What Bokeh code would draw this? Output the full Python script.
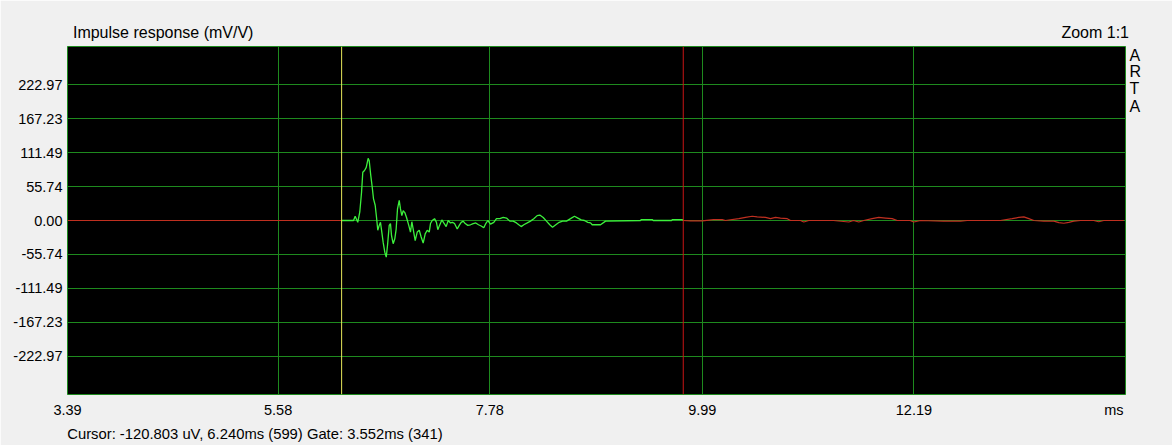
from bokeh.plotting import figure
from bokeh.models import Span, FixedTicker, PrintfTickFormatter, Range1d, LinearAxis
from bokeh.embed import file_html
from bokeh.resources import INLINE

# ---------------- data ----------------
x_ticks = [3.39, 5.58, 7.78, 9.99, 12.19]
y_ticks = [-222.97, -167.23, -111.49, -55.74, 0.0, 55.74, 111.49, 167.23, 222.97]
x_start, x_end = 3.39, 14.39
y_lim = 285.3

cursor_ms = 6.240
gate_ms = 3.552

# gated part (green)
gate_t = [6.240, 6.364, 6.381, 6.408, 6.429, 6.447, 6.460, 6.478, 6.496, 6.516,
          6.527, 6.543, 6.558, 6.571, 6.589, 6.603, 6.616, 6.631, 6.644, 6.658,
          6.672, 6.689, 6.704, 6.717, 6.735, 6.748, 6.759, 6.776, 6.793, 6.807,
          6.821, 6.839, 6.852, 6.866, 6.880, 6.897, 6.915, 6.938, 6.956, 6.970,
          6.984, 7.005, 7.026, 7.047, 7.067, 7.088, 7.109, 7.130, 7.151, 7.164,
          7.182, 7.206, 7.226, 7.240, 7.258, 7.282, 7.302, 7.327, 7.348, 7.372,
          7.393, 7.414, 7.442, 7.463, 7.483, 7.504, 7.525, 7.552, 7.580, 7.608,
          7.635, 7.663, 7.691, 7.718, 7.739, 7.760, 7.788, 7.822, 7.850, 7.885,
          7.920, 7.954, 7.989, 8.024, 8.058, 8.082, 8.107, 8.134, 8.170, 8.204,
          8.238, 8.273, 8.300, 8.336, 8.370, 8.404, 8.433, 8.467, 8.502, 8.537,
          8.578, 8.620, 8.661, 8.696, 8.731, 8.765, 8.800, 8.828, 8.845, 8.932,
          8.984, 9.347, 9.357, 9.469, 9.480, 9.670, 9.680, 9.781, 9.792]
gate_v = [0, 0, 7, -3, 14, 46, 79, 82, 87, 102,
          98, 74, 55, 36, 25, 5, -16, -8, -3, -19,
          -36, -52, -60, -41, -8, -5, -25, -38, -30, -14,
          19, 33, 19, 8, 16, 13, 5, -8, -19, -2,
          -14, -33, -19, -16, -27, -37, -22, -16, -19, -5,
          0, 3, -3, -15, -8, 1, -4, -10, 0, -4,
          -3, -5, -14, -8, -3, -1, -5, -8, -7, -5,
          -4, -7, -9, -12, -5, 0, -6, -3, 3, 3,
          5, 4, -1, -1, -4, -7, -10, -7, -4, -1,
          3, 8, 9, 5, -1, -7, -11, -7, -3, -1,
          -1, 3, 7, 4, 1, 0, -3, -4, -7, -7,
          -1, 0, 1.5, 1.5, 0, 0, 1.5, 1.5, 0]

# before cursor (red)
pre_t = [3.39, 6.240]
pre_v = [0, 0]

# after gate (red)
post_t = [9.792, 9.867, 9.990, 10.106, 10.197, 10.230, 10.370, 10.439, 10.509, 10.561,
          10.647, 10.699, 10.751, 10.803, 10.873, 10.907, 11.011, 11.045, 11.097, 11.354,
          11.513, 11.562, 11.617, 11.669, 11.756, 11.825, 11.895, 11.964, 12.016, 12.150,
          12.189, 12.259, 12.498, 12.675, 12.744, 13.090, 13.212, 13.281, 13.333, 13.385,
          13.437, 13.541, 13.645, 13.697, 13.749, 13.801, 13.853, 13.922, 14.060, 14.112,
          14.164, 14.372]
post_v = [0, -0.5, -0.5, 1.5, 1.5, 0, 3, 5, 7, 6,
          5, 3, 5, 4, 3, 0, 0, -2.5, 0, 0,
          -2.5, 0, -2.5, 0, 3, 5, 4, 3, 0, 0,
          -2.5, 0, -1, -1, 0, 0, 3, 5, 6, 3,
          0, -1, -1, -3.5, -4.5, -3, -1, 0, 0, -2,
          0, 0]

title_text = "Impulse response (mV/V)"
zoom_text = "Zoom 1:1"
brand_letters = ["A", "R", "T", "A"]
unit_text = "ms"
status_text = "Cursor: -120.803 uV, 6.240ms (599)  Gate: 3.552ms (341)"

# anchor positions (data units) of the surrounding texts
title_pos = 4.385
zoom_pos = 14.075
brand_pos = [270.5, 243.5, 216.4, 187.7]
unit_pos = 14.27
status_pos = 5.36

# ---------------- style ----------------
FONT = "Liberation Sans"
BG = "#f0f0f0"
GRID = "#1e8a1e"
GREEN = "#3cf03c"
RED = "#c03020"

W, H = 1172, 445
p = figure(width=W, height=H, output_backend="svg", toolbar_location=None,
           x_range=Range1d(x_start, x_end), y_range=Range1d(-y_lim, y_lim),
           min_border_left=67, min_border_right=47, min_border_top=46, min_border_bottom=51)
p.background_fill_color = "black"
p.border_fill_color = BG
p.outline_line_color = GRID
p.outline_line_width = 1


def plain(ax, size="14.5px"):
    ax.axis_line_color = None
    ax.major_tick_line_color = None
    ax.minor_tick_line_color = None
    ax.major_tick_out = 0
    ax.major_tick_in = 0
    ax.major_label_text_font = FONT
    ax.major_label_text_font_size = size
    ax.major_label_text_color = "black"


plain(p.xaxis[0])
plain(p.yaxis[0])

p.xaxis.ticker = FixedTicker(ticks=x_ticks + [unit_pos])
ov = {t: f"{t:.2f}" for t in x_ticks}
ov[unit_pos] = unit_text
p.xaxis.major_label_overrides = ov
p.xaxis.major_label_standoff = 7
p.yaxis.ticker = FixedTicker(ticks=y_ticks)
p.yaxis.formatter = PrintfTickFormatter(format="%.2f")
p.yaxis.major_label_standoff = 5

p.xgrid.ticker = FixedTicker(ticks=x_ticks)
p.ygrid.ticker = FixedTicker(ticks=y_ticks)
for g in (p.xgrid[0], p.ygrid[0]):
    g.grid_line_color = GRID
    g.grid_line_width = 1

# top texts (title + zoom) via an axis above
top = LinearAxis(ticker=FixedTicker(ticks=[title_pos, zoom_pos]),
                 major_label_overrides={title_pos: title_text, zoom_pos: zoom_text})
plain(top, "16px")
top.major_label_standoff = 6
p.add_layout(top, "above")

# ARTA letters on the right
right = LinearAxis(ticker=FixedTicker(ticks=brand_pos),
                   major_label_overrides={v: ch for v, ch in zip(brand_pos, brand_letters)})
plain(right, "16px")
right.major_label_standoff = 4
p.add_layout(right, "right")

# status line below
status = LinearAxis(ticker=FixedTicker(ticks=[status_pos]),
                    major_label_overrides={status_pos: status_text})
plain(status, "14.8px")
status.major_label_standoff = 5
p.add_layout(status, "below")

# traces
p.line(pre_t, pre_v, line_color=RED, line_width=1.2)
p.line(post_t, post_v, line_color=RED, line_width=1.2)
p.line(gate_t, gate_v, line_color=GREEN, line_width=1.3)

# cursor and gate markers
p.add_layout(Span(location=cursor_ms, dimension="height", line_color="#e6e65a", line_width=1))
p.add_layout(Span(location=cursor_ms + gate_ms, dimension="height", line_color="#c81414", line_width=1))

open("out.html", "w").write(file_html(p, INLINE))
